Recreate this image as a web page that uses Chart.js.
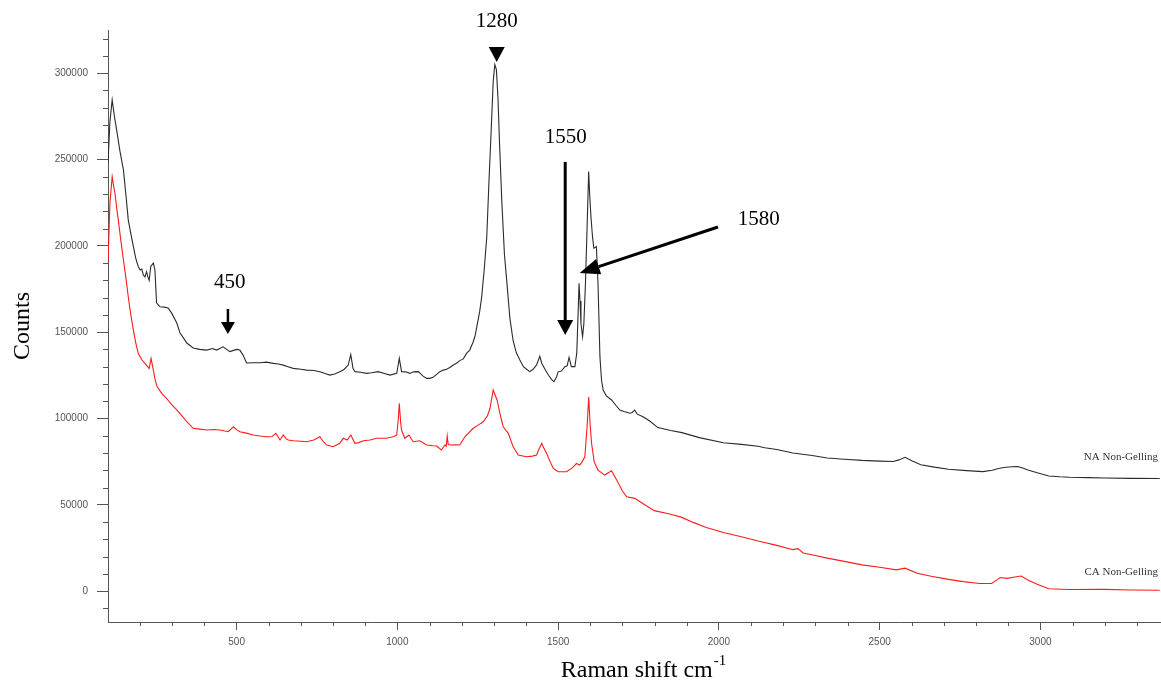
<!DOCTYPE html>
<html><head><meta charset="utf-8">
<script src="https://cdn.jsdelivr.net/npm/chart.js@4.4.1/dist/chart.umd.min.js"></script>
<style>html,body{margin:0;padding:0;background:#fff;}#wrap{width:1161px;height:682px;}</style>
</head><body><div id="wrap"><canvas id="c" width="1161" height="682"></canvas></div>
<script>
// ---- data (Raman shift in cm-1, counts) ----
const naShift = [100,106,113,120,127,137,148,156,163,171,179,186,194,200,205,210,215,220,224,228,233,241,246,251,262,275,287,298,314,324,335,345,365,385,407,425,438,458,479,500,510,520,531,552,573,593,614,630,645,660,676,700,718,740,759,775,790,805,821,835,847,855,862,868,885,904,920,940,960,977,998,1006,1013,1025,1039,1050,1065,1080,1091,1101,1111,1122,1132,1143,1153,1163,1174,1184,1194,1205,1215,1225,1235,1241,1246,1251,1256,1262,1270,1278,1285,1292,1298,1303,1308,1313,1318,1325,1333,1340,1350,1360,1370,1381,1392,1402,1412,1422,1433,1443,1449,1459,1470,1480,1487,1495,1500,1510,1521,1528,1534,1541,1552,1558,1562,1565,1568,1571,1576,1580,1585,1591,1595,1598,1602,1607,1611,1615,1619,1624,1630,1635,1640,1650,1666,1680,1692,1705,1723,1730,1738,1746,1764,1785,1810,1850,1885,1939,2014,2070,2122,2143,2180,2230,2290,2337,2390,2445,2500,2542,2560,2579,2600,2628,2670,2714,2770,2821,2850,2870,2886,2910,2929,2945,2961,2990,3026,3060,3090,3150,3198,3280,3371];
const naCounts = [248000,272000,284500,275000,267000,255000,244000,229000,215000,207000,199500,193000,188000,186000,186500,183000,182000,185000,182000,180000,188000,190000,186000,167000,164700,164500,164000,161000,155300,149500,146500,143700,140800,140000,139600,140500,139600,141500,138700,140000,139600,136700,132100,132300,132300,132600,131900,131500,130900,130000,129000,128500,128000,127800,127100,126000,125100,125800,127100,128500,130900,137000,129000,127100,126800,126100,126500,127100,126000,125100,126100,134800,127100,127000,126100,127000,127100,124500,123200,123200,123800,125500,127100,128000,128500,129500,131000,132000,133500,134500,137700,139600,144000,147300,152000,157000,162000,170000,186000,205000,238000,268000,295000,305000,302000,285000,258000,225000,195000,180000,158000,145000,138000,133800,130000,128500,127100,128500,131000,136000,132000,128500,125000,122500,121300,124000,127000,127500,130000,130500,135400,130000,130000,138000,160000,178300,168000,155000,147300,155000,178300,217000,243000,230000,217000,205000,198600,199000,199500,178300,135800,122000,116500,113000,110700,107500,104900,104000,103000,103500,104900,102500,101000,98500,94700,93000,91800,88900,85900,85000,83900,83000,82000,80000,78500,77100,76400,75700,75300,75100,76000,77500,75500,73200,71800,70600,69800,69200,70000,71000,71600,72000,72200,71300,70200,68500,66700,66200,65900,65700,65500,65300,65200];

const caShift = [100,106,113,118,122,127,132,140,148,156,163,171,179,186,194,205,215,228,234,241,247,253,267,282,298,314,330,345,365,385,407,430,448,474,490,500,510,530,552,573,593,610,622,635,645,655,661,676,700,718,740,759,770,780,800,820,832,844,855,868,880,894,915,935,966,990,998,1003,1006,1010,1013,1023,1036,1049,1070,1091,1110,1122,1137,1148,1152,1155,1158,1163,1180,1194,1210,1236,1250,1267,1280,1288,1298,1310,1320,1329,1345,1360,1376,1390,1402,1420,1433,1440,1449,1455,1464,1475,1485,1500,1526,1545,1557,1567,1575,1583,1590,1595,1600,1604,1612,1624,1645,1666,1682,1700,1713,1738,1756,1799,1850,1885,1920,1961,2014,2070,2122,2180,2230,2246,2262,2300,2337,2390,2445,2500,2552,2579,2617,2660,2714,2760,2811,2848,2865,2875,2897,2920,2940,2961,2990,3026,3090,3198,3280,3371];
const caCounts = [190000,225000,240000,234000,230000,222000,215000,203000,191800,181000,170500,160000,151200,144000,137700,134000,131900,129000,134800,128000,122000,118400,114500,111700,108000,104900,101500,98100,94300,93800,93300,93600,93300,92300,95200,93500,92300,91500,90400,89800,89400,89500,91400,87500,90400,88000,87500,87100,86800,86500,87500,89400,86500,84600,83600,85500,88500,87500,90400,85600,86000,87100,87500,88500,88500,89500,90400,100000,108800,98000,93300,88500,90400,86500,87100,84600,84200,84000,81700,84600,84000,89800,85000,84600,84800,84600,89400,94300,96000,98100,101500,105900,116500,110700,102000,95200,91400,83600,78800,78300,77800,78200,78800,82000,85600,83000,79800,75000,71100,69100,69100,71500,73900,73000,75000,77800,95000,112400,95000,85600,75000,70100,67200,69700,64300,58000,54600,53700,51600,46600,44500,42700,39800,36800,33900,31500,29000,26500,24000,24600,22100,20600,19100,17200,15200,13800,12300,13300,10300,8600,6800,5500,4400,4400,6500,7900,7400,8200,8700,6400,4000,1400,900,1000,600,500];

const seriesNames = ['NA Non-Gelling', 'CA Non-Gelling'];
const xTickValues = [500, 1000, 1500, 2000, 2500, 3000];
const yTickValues = [0, 50000, 100000, 150000, 200000, 250000, 300000];
const peakLabels = ['1280', '450', '1550', '1580'];

// ---- annotation anchors in data coordinates ----
const labelAnchors = [
  {text: peakLabels[0], x: 1309, y: 329700},
  {text: peakLabels[1], x: 479, y: 179000},
  {text: peakLabels[2], x: 1524, y: 263000},
  {text: peakLabels[3], x: 2124, y: 215000}
];
const arrowAnchors = [
  {kind: 'tri', x: 1309, y0: 315200, y1: 306500},
  {kind: 'arrow', x0: 473, y0: 163400, x1: 473, y1: 148900, head: 12, hw: 7, lw: 2.5},
  {kind: 'arrow', x0: 1522, y0: 248600, x1: 1522, y1: 148300, head: 15, hw: 8, lw: 3},
  {kind: 'arrow', x0: 1997, y0: 210900, x1: 1567, y1: 184300, head: 20, hw: 8, lw: 3}
];
const seriesLabelAnchors = [
  {text: seriesNames[0], x: 3366, y: 77600},
  {text: seriesNames[1], x: 3366, y: 11000}
];

const axisColor = '#555';

const decorPlugin = {
  id: 'decor',
  afterDraw(chart) {
    const {ctx, scales: {x, y}, chartArea: a} = chart;
    ctx.save();
    // minor ticks
    ctx.strokeStyle = axisColor; ctx.lineWidth = 1;
    ctx.beginPath();
    for (let v = -10000; v <= y.max; v += 10000) {
      if (v % 50000 === 0) continue;
      const py = Math.round(y.getPixelForValue(v)) + 0.5;
      ctx.moveTo(a.left - 5, py); ctx.lineTo(a.left, py);
    }
    for (let v = 200; v <= x.max; v += 100) {
      if (v % 500 === 0) continue;
      const px = Math.round(x.getPixelForValue(v)) + 0.5;
      ctx.moveTo(px, a.bottom); ctx.lineTo(px, a.bottom + 4);
    }
    ctx.stroke();

    // peak labels
    ctx.fillStyle = '#000';
    ctx.font = '21px "Liberation Serif", "Times New Roman", serif';
    ctx.textAlign = 'center'; ctx.textBaseline = 'middle';
    labelAnchors.forEach(l => ctx.fillText(l.text, x.getPixelForValue(l.x), y.getPixelForValue(l.y)));

    // arrows
    ctx.strokeStyle = '#000'; ctx.fillStyle = '#000';
    arrowAnchors.forEach(ar => {
      if (ar.kind === 'tri') {
        const px = x.getPixelForValue(ar.x), p0 = y.getPixelForValue(ar.y0), p1 = y.getPixelForValue(ar.y1);
        ctx.beginPath(); ctx.moveTo(px - 8, p0); ctx.lineTo(px + 8, p0); ctx.lineTo(px, p1); ctx.closePath(); ctx.fill();
      } else {
        const x0 = x.getPixelForValue(ar.x0), y0 = y.getPixelForValue(ar.y0);
        const x1 = x.getPixelForValue(ar.x1), y1 = y.getPixelForValue(ar.y1);
        const dx = x1 - x0, dy = y1 - y0, len = Math.hypot(dx, dy);
        const ux = dx / len, uy = dy / len;
        const bx = x1 - ux * ar.head, by = y1 - uy * ar.head;
        ctx.lineWidth = ar.lw;
        ctx.beginPath(); ctx.moveTo(x0, y0); ctx.lineTo(bx, by); ctx.stroke();
        ctx.beginPath();
        ctx.moveTo(x1, y1);
        ctx.lineTo(bx - uy * ar.hw, by + ux * ar.hw);
        ctx.lineTo(bx + uy * ar.hw, by - ux * ar.hw);
        ctx.closePath(); ctx.fill();
      }
    });

    // series labels
    ctx.fillStyle = '#333';
    ctx.font = '11px "Liberation Serif", "Times New Roman", serif';
    ctx.textAlign = 'right'; ctx.textBaseline = 'middle';
    seriesLabelAnchors.forEach(l => ctx.fillText(l.text, x.getPixelForValue(l.x), y.getPixelForValue(l.y)));

    // x-axis title with superscript
    const main = 'Raman shift cm', sup = '-1';
    ctx.fillStyle = '#000';
    ctx.textAlign = 'left'; ctx.textBaseline = 'alphabetic';
    ctx.font = '24px "Liberation Serif", "Times New Roman", serif';
    const wMain = ctx.measureText(main).width;
    ctx.font = '15px "Liberation Serif", "Times New Roman", serif';
    const wSup = ctx.measureText(sup).width;
    const cx = 643, start = cx - (wMain + wSup) / 2;
    ctx.font = '24px "Liberation Serif", "Times New Roman", serif';
    ctx.fillText(main, start, 677);
    ctx.font = '15px "Liberation Serif", "Times New Roman", serif';
    ctx.fillText(sup, start + wMain + 1, 665);
    ctx.restore();
  }
};

const tickFont = {family: '"Liberation Sans", Arial, sans-serif', size: 10};

new Chart(document.getElementById('c'), {
  type: 'line',
  data: {
    datasets: [
      {label: seriesNames[0], data: naShift.map((s, i) => ({x: s, y: naCounts[i]})),
       borderColor: '#2b2b2b', borderWidth: 1.1, pointRadius: 0, tension: 0, fill: false},
      {label: seriesNames[1], data: caShift.map((s, i) => ({x: s, y: caCounts[i]})),
       borderColor: '#ff1a1a', borderWidth: 1.1, pointRadius: 0, tension: 0, fill: false}
    ]
  },
  options: {
    responsive: false, animation: false, devicePixelRatio: 1,
    layout: {padding: {top: 30, right: 0, left: 0, bottom: 0}},
    plugins: {legend: {display: false}, tooltip: {enabled: false}, title: {display: false}},
    scales: {
      x: {
        type: 'linear', min: 100, max: 3375,
        afterBuildTicks: s => { s.ticks = xTickValues.map(v => ({value: v})); },
        afterFit: s => { s.height = 60; },
        border: {display: true, color: axisColor, width: 1},
        grid: {display: true, drawOnChartArea: false, drawTicks: true, tickLength: 8, color: axisColor},
        ticks: {autoSkip: false, maxRotation: 0, color: '#555', font: tickFont, padding: 6,
          callback: v => String(v)},
        title: {display: false}
      },
      y: {
        type: 'linear', min: -17900, max: 325000,
        afterBuildTicks: s => { s.ticks = yTickValues.map(v => ({value: v})); },
        afterFit: s => { s.width = 108; },
        border: {display: true, color: axisColor, width: 1},
        grid: {display: true, drawOnChartArea: false, drawTicks: true, tickLength: 11, color: axisColor},
        ticks: {autoSkip: false, color: '#555', font: tickFont, padding: 9,
          callback: v => String(v)},
        title: {display: true, text: 'Counts', color: '#000',
          font: {family: '"Liberation Serif", "Times New Roman", serif', size: 24},
          padding: {top: 8, bottom: 0}}
      }
    }
  },
  plugins: [decorPlugin]
});
</script>
</body></html>
